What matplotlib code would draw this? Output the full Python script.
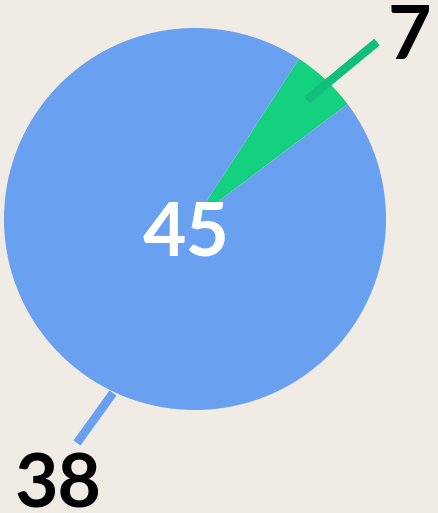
import matplotlib
matplotlib.use("Agg")
import matplotlib.pyplot as plt

# data
categories = ["green", "blue"]
values = [7, 38]
total_label = "45"
# angular extent of each slice as drawn in the reference (degrees)
slice_degrees = [20, 340]
colors = ["#13D17F", "#69A1F0"]
line_colors = ["#11BF7C", "#69A1F0"]

W, H = 438, 513
fig = plt.figure(figsize=(W / 100, H / 100), dpi=100)
fig.patch.set_facecolor("#F0EBE5")
ax = fig.add_axes([0, 0, 1, 1])
ax.set_facecolor("#F0EBE5")

cx, cy, r = 195, H - 219, 191
ax.pie(slice_degrees, colors=colors, startangle=37, counterclock=True,
       center=(cx, cy), radius=r, wedgeprops=dict(linewidth=0))

ax.set_xlim(0, W)
ax.set_ylim(0, H)
ax.set_aspect("equal")
ax.axis("off")

# leader lines (pixel layout, y from top)
leaders = [((307, 100), (377, 42)), ((113, 393), (77, 443))]
for (p0, p1), lc in zip(leaders, line_colors):
    ax.plot([p0[0], p1[0]], [H - p0[1], H - p1[1]], color=lc, lw=6.2,
            solid_capstyle="butt", zorder=3)

font = dict(family="Lato", weight="bold", fontsize=54)
ax.text(409, H - 59, str(values[0]), ha="center", va="baseline", color="black", **font)
ax.text(58, H - 507, str(values[1]), ha="center", va="baseline", color="black", **font)
ax.text(186, H - 255, total_label, ha="center", va="baseline", color="white", **font)

fig.savefig("out.png", dpi=100, facecolor=fig.get_facecolor())
